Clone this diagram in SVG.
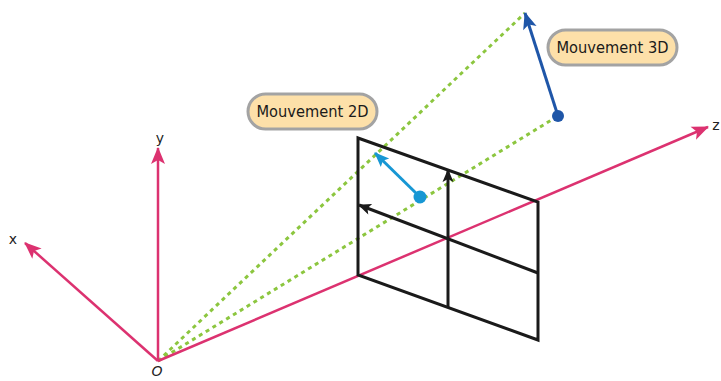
<svg xmlns="http://www.w3.org/2000/svg" width="721" height="381" viewBox="0 0 721 381">
<style>
.axis{stroke:#dc3270;stroke-width:2.5;fill:none}
.frame{stroke:#1a1a1a;stroke-width:3;fill:none;stroke-linejoin:miter}
.ray{stroke:#8cc63f;stroke-width:3;stroke-dasharray:4 4;fill:none}
.pill{fill:#fde0a9;stroke:#a3a3a3;stroke-width:3}
.lbl{font-family:"Comic Sans MS","DejaVu Sans",sans-serif;font-size:15px;fill:#1a1a1a;text-anchor:middle}
.ax{font-family:"DejaVu Sans",sans-serif;font-size:14px;fill:#222;text-anchor:middle}
</style>
<defs>
<marker id="ha" markerUnits="userSpaceOnUse" markerWidth="18" markerHeight="16" refX="16" refY="7" orient="auto" overflow="visible">
<path d="M0,0 L17,7 L0,14 L4,7 z" fill="#dc3270"/>
</marker>
<marker id="hb" markerUnits="userSpaceOnUse" markerWidth="14" markerHeight="12" refX="12" refY="5.5" orient="auto" overflow="visible">
<path d="M0,0 L13,5.5 L0,11 L3,5.5 z" fill="#1a1a1a"/>
</marker>
<marker id="hd" markerUnits="userSpaceOnUse" markerWidth="18" markerHeight="16" refX="16" refY="7" orient="auto" overflow="visible">
<path d="M0,0 L17,7 L0,14 L4,7 z" fill="#1f56a8"/>
</marker>
<marker id="hl" markerUnits="userSpaceOnUse" markerWidth="16" markerHeight="14" refX="14" refY="6" orient="auto" overflow="visible">
<path d="M0,0 L15,6 L0,12 L3,6 z" fill="#1797d4"/>
</marker>
</defs>
<g id="connectors">
<line class="ray" x1="158" y1="361" x2="525" y2="13"/>
<line class="ray" x1="158" y1="361" x2="558" y2="116"/>
<line class="axis" x1="158" y1="361" x2="158" y2="148" marker-end="url(#ha)"/>
<line class="axis" x1="158" y1="361" x2="25" y2="243" marker-end="url(#ha)"/>
<line class="axis" x1="158" y1="361" x2="708" y2="127" marker-end="url(#ha)"/>
<line x1="558" y1="116" x2="525" y2="13" stroke="#1f56a8" stroke-width="3" marker-end="url(#hd)"/>
<line x1="420" y1="197" x2="375" y2="153" stroke="#1797d4" stroke-width="3" marker-end="url(#hl)"/>
<line x1="448" y1="307" x2="448" y2="170" stroke="#1a1a1a" stroke-width="3" marker-end="url(#hb)"/>
<line x1="538" y1="273" x2="359" y2="205" stroke="#1a1a1a" stroke-width="3" marker-end="url(#hb)"/>
</g>
<g id="frame">
<path class="frame" d="M358,138 L538,202 L538,340 L358,275 Z"/>
</g>
<g id="point3d"><circle cx="558" cy="116" r="6" fill="#1f56a8"/></g>
<g id="point2d"><circle cx="420" cy="197" r="6.5" fill="#1797d4"/></g>
<g id="label2d">
<rect class="pill" x="248" y="94" width="129" height="35" rx="17.5"/>
<text class="lbl" x="312.5" y="117" textLength="112" lengthAdjust="spacingAndGlyphs">Mouvement 2D</text>
</g>
<g id="label3d">
<rect class="pill" x="548" y="30" width="129" height="35" rx="17.5"/>
<text class="lbl" x="612.5" y="53" textLength="112" lengthAdjust="spacingAndGlyphs">Mouvement 3D</text>
</g>
<g id="axis-labels">
<text class="ax" x="13" y="244">x</text>
<text class="ax" x="160" y="143">y</text>
<text class="ax" x="716" y="130">z</text>
<text class="ax" x="157" y="376" font-style="italic" font-size="15">O</text>
</g>
</svg>
